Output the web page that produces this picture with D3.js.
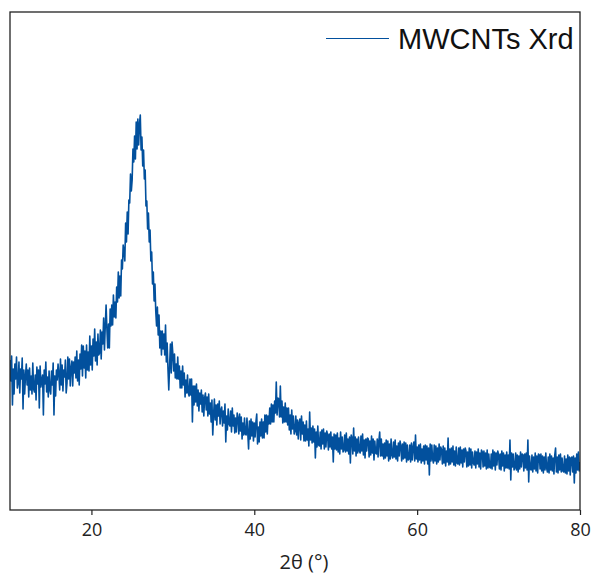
<!DOCTYPE html>
<html>
<head>
<meta charset="utf-8">
<script src="https://cdn.jsdelivr.net/npm/d3@7/dist/d3.min.js"></script>
<style>
  html, body { margin: 0; padding: 0; background: #fff; }
  svg { display: block; }
</style>
</head>
<body>
<div id="chart"></div>
<script>
// ---- Data ----
const seriesName = "MWCNTs Xrd";
const xTicks = [20, 40, 60, 80];
const xLabel = "2θ (°)";
const thetaStart = 10;   // first sample, degrees 2θ
const thetaStep = 0.1;   // sampling step, degrees
// intensity (a.u.), one row per degree 2θ (10 samples each), last value at 80°
const intensity = [
  150,129,154,105,141,116,146,131,153,122,
  127,148,117,141,131,152,101,140,116,134,
  146,125,140,113,142,120,134,116,147,121,
  118,135,110,143,126,140,102,144,123,130,
  135,95,140,126,148,118,133,113,139,120,
  116,139,125,147,95,134,114,140,130,146,
  136,120,151,125,145,119,140,133,150,117,
  127,153,131,151,124,142,149,124,148,137,
  153,132,159,129,150,125,156,141,165,134,
  164,142,159,132,165,140,158,139,174,145,
  164,140,171,154,181,149,168,145,176,155,
  157,180,151,178,166,192,160,184,205,181,
  162,186,162,201,184,205,185,215,193,208,
  192,223,208,238,212,234,214,250,241,265,
  259,249,287,268,298,276,310,307,336,319,
  330,361,348,374,351,388,361,391,365,386,
  395,360,373,344,360,331,340,304,309,281,
  297,268,280,249,258,226,238,209,226,199,
  184,203,175,195,162,179,155,179,161,176,
  155,185,148,167,141,120,144,166,137,168,
  156,139,156,132,146,131,153,131,144,122,
  139,122,144,125,137,113,130,117,135,117,
  114,131,115,131,88,124,105,124,108,126,
  104,120,99,117,106,120,98,115,94,112,
  117,100,113,94,116,96,107,88,110,75,
  95,111,90,105,85,106,94,109,86,100,
  103,84,99,87,106,68,94,80,101,86,
  84,99,78,102,84,95,77,92,78,97,
  92,76,96,79,93,71,87,75,92,76,
  75,92,77,61,89,71,91,74,88,69,
  87,73,88,96,66,83,68,88,74,91,
  72,88,72,95,78,95,76,94,86,102,
  86,106,88,105,88,109,97,128,95,112,
  111,93,124,93,109,87,103,88,107,88,
  102,85,102,80,95,76,100,81,94,76,
  79,94,75,90,71,87,91,70,94,76,
  88,69,85,69,89,70,81,64,98,70,
  82,67,84,68,81,52,78,63,84,65,
  64,78,61,80,66,81,61,77,63,79,
  75,60,76,63,78,61,73,48,76,61,
  75,60,77,58,72,56,78,61,73,58,
  60,75,58,77,59,71,56,73,47,75,
  72,56,82,59,73,54,71,57,73,59,
  57,74,59,76,55,70,52,71,59,72,
  71,53,69,55,74,57,71,50,69,57,
  56,71,53,69,78,54,71,54,66,51,
  67,52,70,54,69,49,66,51,71,55,
  52,68,53,70,51,64,49,67,54,69,
  64,49,66,51,68,52,67,48,65,50,
  51,65,48,67,50,63,68,49,75,51,
  63,48,65,50,66,47,61,49,64,46,
  65,50,64,46,62,35,66,49,65,51,
  47,65,49,64,46,62,48,66,50,63,
  60,46,64,47,62,44,59,48,72,45,
  61,46,62,48,64,45,59,44,63,47,
  46,62,45,63,47,60,43,61,48,62,
  59,43,58,44,62,45,61,42,58,47,
  45,59,42,58,46,61,43,57,41,60,
  58,43,59,44,57,41,60,42,56,43,
  42,56,41,60,44,58,40,57,45,59,
  55,41,56,40,59,44,57,39,55,42,
  58,42,55,41,70,30,57,43,56,40,
  42,57,40,55,38,54,41,58,43,56,
  55,39,56,42,57,40,70,28,54,41,
  40,55,38,53,41,57,39,54,37,56,
  55,41,56,39,54,37,53,40,57,42,
  38,53,37,56,40,54,39,52,36,55,
  62,38,53,37,55,40,56,38,52,39,
  38,54,37,51,36,55,39,53,35,52,
  53,38,54,27,52,37,56,40,58,39,
  48
];

// ---- Layout ----
const W = 592, H = 577;
const plot = { left: 10, top: 12, right: 580, bottom: 510 };
const lineColor = "#02509d";

const data = intensity.map((v, i) => ({ t: thetaStart + i * thetaStep, v }));

const x = d3.scaleLinear().domain([10, 80]).range([plot.left, plot.right]);
const y = d3.scaleLinear().domain([0, 498]).range([plot.bottom, plot.top]);

const svg = d3.select("#chart").append("svg")
  .attr("width", W).attr("height", H)
  .style("background", "#fff");

svg.append("defs").append("clipPath").attr("id", "clip")
  .append("rect")
  .attr("x", plot.left).attr("y", plot.top)
  .attr("width", plot.right - plot.left).attr("height", plot.bottom - plot.top);

// data line
svg.append("path")
  .datum(data)
  .attr("clip-path", "url(#clip)")
  .attr("fill", "none")
  .attr("stroke", lineColor)
  .attr("stroke-width", 1.6)
  .attr("stroke-linejoin", "round")
  .attr("d", d3.line().x(d => x(d.t)).y(d => y(d.v)));

// frame
svg.append("rect")
  .attr("x", plot.left).attr("y", plot.top)
  .attr("width", plot.right - plot.left).attr("height", plot.bottom - plot.top)
  .attr("fill", "none")
  .attr("stroke", "#222")
  .attr("stroke-width", 1.3);

// x axis
const gx = svg.append("g")
  .attr("transform", `translate(0,${plot.bottom})`)
  .call(d3.axisBottom(x).tickValues(xTicks).tickSize(5).tickSizeOuter(0).tickPadding(8));
gx.select(".domain").remove();
gx.selectAll(".tick line").attr("stroke", "#222").attr("stroke-width", 1.2);
gx.selectAll(".tick text")
  .attr("fill", "#222")
  .style("font-family", "'Open Sans', 'Noto Sans', sans-serif")
  .style("font-size", "18px");

// x label
svg.append("text")
  .attr("x", (plot.left + plot.right) / 2 + 9)
  .attr("y", 569)
  .attr("text-anchor", "middle")
  .attr("fill", "#222")
  .style("font-family", "'Open Sans', 'Noto Sans', sans-serif")
  .style("font-size", "20px")
  .text(xLabel);

// legend
const lg = svg.append("g");
lg.append("line")
  .attr("x1", 326).attr("x2", 389)
  .attr("y1", 38.5).attr("y2", 38.5)
  .attr("stroke", lineColor).attr("stroke-width", 1);
lg.append("text")
  .attr("x", 398).attr("y", 49)
  .attr("fill", "#111")
  .style("font-family", "'Liberation Sans', Arial, sans-serif")
  .style("font-size", "29px")
  .text(seriesName);
</script>
</body>
</html>
